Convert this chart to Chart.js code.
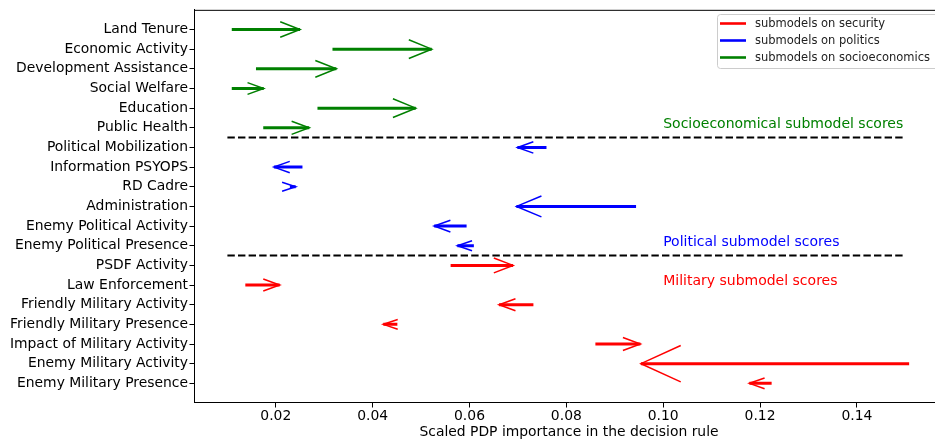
<!DOCTYPE html>
<html lang="en">
<head>
  <meta charset="UTF-8">
  <title>Scaled PDP importance</title>
  <script src="https://cdn.jsdelivr.net/npm/chart.js"></script>
  <style>
    body {
      margin: 0;
      background: #fff;
      overflow: hidden;
    }
    .wrap {
      width: 945px;
      height: 442px;
    }
  </style>
</head>
<body>

<div class="wrap">
  <canvas id="pdpChart" width="945" height="442"></canvas>
</div>

<script>
  // Submodel features, top row first
  const categories = [
    'Land Tenure', 'Economic Activity', 'Development Assistance', 'Social Welfare',
    'Education', 'Public Health', 'Political Mobilization', 'Information PSYOPS',
    'RD Cadre', 'Administration', 'Enemy Political Activity', 'Enemy Political Presence',
    'PSDF Activity', 'Law Enforcement', 'Friendly Military Activity',
    'Friendly Military Presence', 'Impact of Military Activity',
    'Enemy Military Activity', 'Enemy Military Presence'
  ];
  const groups = [
    'socio', 'socio', 'socio', 'socio', 'socio', 'socio',
    'politics', 'politics', 'politics', 'politics', 'politics', 'politics',
    'security', 'security', 'security', 'security', 'security', 'security', 'security'
  ];
  // arrow tail (before) and head (after) importance values
  const startScores = [
    0.0109, 0.0317, 0.0159, 0.0109, 0.0286, 0.0174,
    0.0759, 0.0255, 0.0229, 0.0944, 0.0594, 0.0609,
    0.0561, 0.0137, 0.0732, 0.0451, 0.0860, 0.1508, 0.1224
  ];
  const endScores = [
    0.0250, 0.0522, 0.0325, 0.0175, 0.0489, 0.0269,
    0.0699, 0.0196, 0.0241, 0.0697, 0.0527, 0.0575,
    0.0690, 0.0208, 0.0661, 0.0422, 0.0953, 0.0954, 0.1178
  ];
  const xTicks = [0.02, 0.04, 0.06, 0.08, 0.10, 0.12, 0.14];

  const groupColors = { security: '#ff0000', politics: '#0000ff', socio: '#008000' };
  const legendItems = [
    ['submodels on security', 'security'],
    ['submodels on politics', 'politics'],
    ['submodels on socioeconomics', 'socio']
  ];
  const sectionLabels = [
    ['Socioeconomical submodel scores', 'socio', 5],
    ['Political submodel scores', 'politics', 11],
    ['Military submodel scores', 'security', 13]
  ];

  const FONT = '"DejaVu Sans", sans-serif';

  // one line dataset per arrow shaft
  const datasets = categories.map((name, i) => ({
    label: name,
    data: [{ x: startScores[i], y: i }, { x: endScores[i], y: i }],
    showLine: true,
    borderColor: groupColors[groups[i]],
    borderWidth: 3,
    borderCapStyle: 'butt',
    pointRadius: 0
  }));

  // dashed separators between the groups
  groups.forEach((g, i) => {
    if (i > 0 && g !== groups[i - 1]) {
      datasets.push({
        label: 'sep' + i,
        data: [{ x: 0.01, y: i - 0.5 }, { x: 0.15, y: i - 0.5 }],
        showLine: true,
        borderColor: '#000',
        borderWidth: 2,
        borderDash: [7.4, 3.2],
        borderCapStyle: 'butt',
        pointRadius: 0
      });
    }
  });

  const arrowHeads = {
    id: 'arrowHeads',
    afterDatasetsDraw(chart) {
      const { ctx, scales: { x, y } } = chart;
      ctx.save();
      ctx.lineWidth = 1.5;
      categories.forEach((name, i) => {
        const sx = x.getPixelForValue(startScores[i]);
        const tx = x.getPixelForValue(endScores[i]);
        const py = y.getPixelForValue(i);
        const len = Math.abs(tx - sx);
        const dir = tx > sx ? 1 : -1;
        const hl = 13 + 0.1 * len;
        const hw = 4.2 + 0.052 * len;
        ctx.strokeStyle = groupColors[groups[i]];
        ctx.beginPath();
        ctx.moveTo(tx - dir * hl, py - hw);
        ctx.lineTo(tx, py);
        ctx.lineTo(tx - dir * hl, py + hw);
        ctx.stroke();
      });
      ctx.restore();
    },
    afterDraw(chart) {
      const { ctx, chartArea: a, scales: { x, y } } = chart;
      ctx.save();
      // top spine
      ctx.strokeStyle = '#000';
      ctx.lineWidth = 1;
      ctx.beginPath();
      ctx.moveTo(a.left, a.top + 0.5);
      ctx.lineTo(a.right, a.top + 0.5);
      ctx.stroke();

      // section captions
      ctx.font = '14px ' + FONT;
      ctx.textBaseline = 'alphabetic';
      ctx.textAlign = 'left';
      sectionLabels.forEach(([text, g, row]) => {
        ctx.fillStyle = groupColors[g];
        ctx.fillText(text, x.getPixelForValue(0.1), y.getPixelForValue(row));
      });

      // x axis title
      ctx.fillStyle = '#000';
      ctx.font = '13.9px ' + FONT;
      ctx.textAlign = 'center';
      ctx.fillText('Scaled PDP importance in the decision rule', (a.left + a.right) / 2, 436);

      // legend box
      const lx = 717.5, ly = 14.5, lw = 240, lh = 54;
      ctx.fillStyle = 'rgba(255,255,255,0.8)';
      ctx.strokeStyle = '#cccccc';
      ctx.lineWidth = 1;
      ctx.beginPath();
      ctx.roundRect(lx, ly, lw, lh, 3);
      ctx.fill();
      ctx.stroke();
      ctx.font = '11.5px ' + FONT;
      ctx.textAlign = 'left';
      ctx.textBaseline = 'middle';
      legendItems.forEach(([text, g], k) => {
        const ry = 23.5 + k * 17;
        ctx.strokeStyle = groupColors[g];
        ctx.lineWidth = 2.6;
        ctx.beginPath();
        ctx.moveTo(720, ry);
        ctx.lineTo(746, ry);
        ctx.stroke();
        ctx.fillStyle = '#222';
        ctx.fillText(text, 755, ry + 0.5);
      });
      ctx.restore();
    }
  };

  new Chart(document.getElementById('pdpChart'), {
    type: 'scatter',
    data: { datasets },
    options: {
      responsive: false,
      animation: false,
      devicePixelRatio: 1,
      events: [],
      layout: { padding: { top: 7, right: 1, left: 0, bottom: 0 } },
      plugins: {
        legend: { display: false },
        tooltip: { enabled: false }
      },
      scales: {
        x: {
          type: 'linear',
          min: 0.0031,
          max: 0.158,
          afterBuildTicks: (scale) => { scale.ticks = xTicks.map(v => ({ value: v })); },
          afterFit: (scale) => { scale.height = 39; },
          grid: { drawOnChartArea: false, drawTicks: true, tickLength: 4.5, color: '#000' },
          border: { display: true, color: '#000', width: 1 },
          ticks: {
            padding: 1,
            color: '#000',
            font: { family: FONT, size: 13.9 },
            maxRotation: 0,
            callback: (v) => Number(v).toFixed(2)
          }
        },
        y: {
          type: 'linear',
          reverse: true,
          min: -1,
          max: 19,
          afterBuildTicks: (scale) => { scale.ticks = categories.map((c, i) => ({ value: i })); },
          afterFit: (scale) => { scale.width = 194; },
          grid: { drawOnChartArea: false, drawTicks: true, tickLength: 4.5, color: '#000' },
          border: { display: true, color: '#000', width: 1 },
          ticks: {
            autoSkip: false,
            padding: 1.5,
            color: '#000',
            font: { family: FONT, size: 13.9 },
            callback: (v) => categories[v]
          }
        }
      }
    },
    plugins: [arrowHeads]
  });
</script>

</body>
</html>
